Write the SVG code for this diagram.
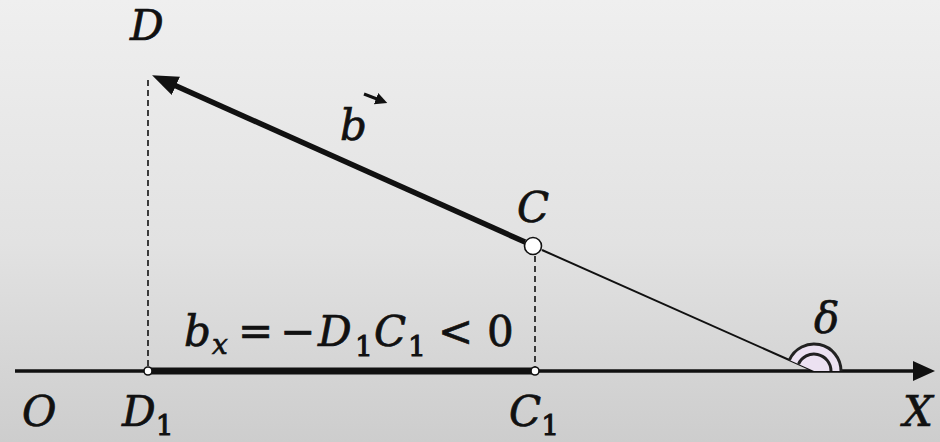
<svg xmlns="http://www.w3.org/2000/svg" width="940" height="442" viewBox="0 0 940 442">
<defs>
<linearGradient id="bg" x1="0" y1="0" x2="0" y2="1">
<stop offset="0" stop-color="#efefef"/>
<stop offset="0.55" stop-color="#e2e2e2"/>
<stop offset="1" stop-color="#cdcdcd"/>
</linearGradient>
<marker id="axisHead" markerUnits="userSpaceOnUse" markerWidth="24" markerHeight="24" refX="2" refY="10" orient="auto">
<path d="M0,0 L22,10 L0,20 Z" fill="#111"/>
</marker>
<marker id="vecHead" markerUnits="userSpaceOnUse" markerWidth="28" markerHeight="24" refX="2" refY="10" orient="auto">
<path d="M0,0 L26,10 L0,20 Z" fill="#111"/>
</marker>
<marker id="smallHead" markerUnits="userSpaceOnUse" markerWidth="14" markerHeight="14" refX="1" refY="6" orient="auto">
<path d="M0,0 L12,6 L0,12 Z" fill="#111"/>
</marker>
</defs>
<style>
.lbl{font-family:"DejaVu Serif",serif;font-style:italic;font-size:42px;fill:#111;stroke:#111;stroke-width:0.7;}
.up{font-style:normal;}
.sub{font-size:28px;font-style:normal;stroke-width:1;}
.subi{font-size:28px;font-style:italic;}
.dash{stroke:#111;stroke-width:1.6;stroke-dasharray:6 4;fill:none;}
.pt{fill:#fff;stroke:#111;stroke-width:1.6;}
</style>
<rect width="940" height="442" fill="url(#bg)"/>
<g id="connectors">
<line id="axis" x1="15" y1="371" x2="915" y2="371" stroke="#111" stroke-width="3.5" marker-end="url(#axisHead)"/>
<line id="projection" x1="148" y1="371" x2="535" y2="371" stroke="#111" stroke-width="7"/>
<line id="dashD" class="dash" x1="148" y1="80" x2="148" y2="367"/>
<line id="dashC" class="dash" x1="535" y1="256" x2="535" y2="367"/>
<line id="extension" x1="542" y1="250" x2="814" y2="371" stroke="#111" stroke-width="2"/>
<line id="vector" x1="525" y1="242" x2="174" y2="85" stroke="#111" stroke-width="5.5" marker-end="url(#vecHead)"/>
</g>
<g id="angle">
<path d="M814,371 L841,371 A27,27 0 0 0 789.3,360.1 Z" fill="#ece2f2"/>
<path d="M841,371 A27,27 0 0 0 789.3,360.1" fill="none" stroke="#222" stroke-width="3"/>
<path d="M831,371 A17,17 0 0 0 798.5,364.1" fill="none" stroke="#222" stroke-width="3"/>
</g>
<g id="nodeC"><circle class="pt" cx="533" cy="246" r="8.5" stroke-width="3.5"/></g>
<g id="nodeD1"><circle class="pt" cx="148" cy="371" r="4"/></g>
<g id="nodeC1"><circle class="pt" cx="535" cy="371" r="4"/></g>
<g id="labels">
<text class="lbl" x="130" y="40">D</text>
<text class="lbl" x="340" y="140" font-size="44">b</text>
<line x1="364" y1="94" x2="377" y2="99" stroke="#111" stroke-width="3" marker-end="url(#smallHead)"/>
<text class="lbl" x="517" y="222">C</text>
<text class="lbl" x="814" y="333">δ</text>
<text class="lbl" x="184" y="346">b<tspan class="subi" x="212" dy="8">x</tspan><tspan class="up" x="238" dy="-8">=</tspan><tspan class="up" x="280">−</tspan><tspan x="318">D</tspan><tspan class="sub" x="355" dy="10">1</tspan><tspan x="374" dy="-10">C</tspan><tspan class="sub" x="408" dy="10">1</tspan><tspan class="up" x="438" dy="-10">&lt;</tspan><tspan class="up" x="487">0</tspan></text>
<text class="lbl" x="22" y="426">O</text>
<text class="lbl" x="122" y="426">D<tspan class="sub" dy="9">1</tspan></text>
<text class="lbl" x="509" y="426">C<tspan class="sub" dy="9">1</tspan></text>
<text class="lbl" x="903" y="426">X</text>
</g>
</svg>
